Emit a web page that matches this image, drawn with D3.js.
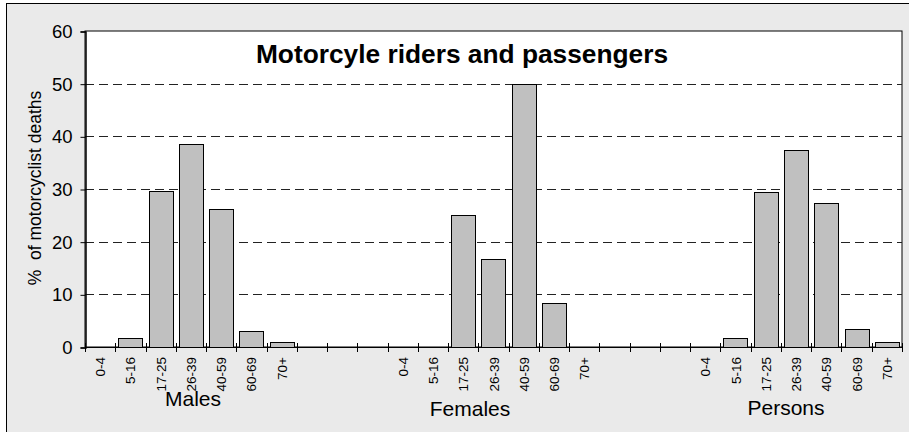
<!DOCTYPE html>
<meta charset="utf-8">
<head>
  <script src="https://d3js.org/d3.v7.min.js"></script>
  <style>
    body { margin: 0; background: #fff; }
    text { font-family: "Liberation Sans", Arial, sans-serif; fill: #000; }
  </style>
</head>
<body>
<div id="container"></div>
<script>
// chart values
const ageGroups = ["0-4", "5-16", "17-25", "26-39", "40-59", "60-69", "70+"];
const groupNames = ["Males", "Females", "Persons"];
const males = [0, 1.7, 29.7, 38.5, 26.2, 3.0, 0.9];
const females = [0, 0, 25.0, 16.7, 50.0, 8.3, 0];
const persons = [0, 1.7, 29.4, 37.5, 27.4, 3.4, 0.9];
const yTicks = [0, 10, 20, 30, 40, 50, 60];
const title = "Motorcyle riders and passengers";
const yLabel = "%  of motorcyclist deaths";

var width = 909, height = 432;
var plot = { left: 85, top: 31, right: 902, bottom: 347 };
var gapSlots = 3;

// build the slot list: 7 ages per group, 3 empty slots between groups
var series = [males, females, persons];
var slots = [];
groupNames.forEach(function (g, gi) {
  ageGroups.forEach(function (a, ai) {
    slots.push({ key: g + "|" + a, group: g, age: a, value: series[gi][ai] });
  });
  if (gi < groupNames.length - 1) {
    for (var k = 0; k < gapSlots; k++) slots.push({ key: g + "|gap" + k, age: "", value: null });
  }
});

var svg = d3.select("#container").append("svg")
  .attr("width", width).attr("height", height);

// outer chart area
svg.append("rect")
  .attr("x", 6.5).attr("y", 3.5)
  .attr("width", width + 10).attr("height", height + 10)
  .attr("fill", "#eaeaea").attr("stroke", "#000");

// plot area
svg.append("rect")
  .attr("x", plot.left).attr("y", plot.top)
  .attr("width", plot.right - plot.left).attr("height", plot.bottom - plot.top)
  .attr("fill", "#fff").attr("stroke", "#000");

var x = d3.scaleBand()
  .domain(slots.map(function (d) { return d.key; }))
  .range([plot.left, plot.right])
  .paddingInner(0.2).paddingOuter(0.1);

var step = x.step();
var y = d3.scaleLinear().domain([0, 60]).range([plot.bottom, plot.top]);

// dashed gridlines
svg.append("g").selectAll("line")
  .data(yTicks.filter(function (t) { return t > 0 && t < 60; }))
  .join("line")
  .attr("x1", plot.left).attr("x2", plot.right)
  .attr("y1", function (d) { return Math.round(y(d)) + 0.5; })
  .attr("y2", function (d) { return Math.round(y(d)) + 0.5; })
  .attr("stroke", "#222").attr("stroke-dasharray", "9,5");

// y axis
var yAxis = d3.axisLeft(y).tickValues(yTicks).tickSize(5).tickPadding(8);
var yg = svg.append("g")
  .attr("transform", "translate(" + (plot.left + 0.5) + ",0.5)")
  .call(yAxis);
yg.select(".domain").attr("stroke", "#000").attr("stroke-width", 1.5);
yg.selectAll("text").style("font-size", "18.5px").attr("fill", "#000");

// bars
svg.append("g").selectAll("rect")
  .data(slots.filter(function (d) { return d.value; }))
  .join("rect")
  .attr("x", function (d) { return Math.round(x(d.key)) + 0.5; })
  .attr("y", function (d) { return Math.round(y(d.value)) + 0.5; })
  .attr("width", Math.round(x.bandwidth()))
  .attr("height", function (d) { return Math.round(y(0)) - Math.round(y(d.value)); })
  .attr("fill", "#c0c0c0").attr("stroke", "#000");

// x axis line and crossing ticks at slot boundaries
var xg = svg.append("g");
xg.append("line")
  .attr("x1", plot.left).attr("x2", plot.right)
  .attr("y1", plot.bottom + 0.5).attr("y2", plot.bottom + 0.5)
  .attr("stroke", "#000");
xg.selectAll("line.tick")
  .data(d3.range(slots.length + 1))
  .join("line").attr("class", "tick")
  .attr("x1", function (i) { return Math.round(plot.left + i * step) + 0.5; })
  .attr("x2", function (i) { return Math.round(plot.left + i * step) + 0.5; })
  .attr("y1", plot.bottom - 4).attr("y2", plot.bottom + 5)
  .attr("stroke", "#000");

// age labels, rotated
svg.append("g").selectAll("text")
  .data(slots.filter(function (d) { return d.age; }))
  .join("text")
  .attr("transform", function (d) {
    return "translate(" + (x(d.key) + x.bandwidth() / 2 + 5) + "," + (plot.bottom + 10) + ") rotate(-90)";
  })
  .attr("text-anchor", "end")
  .style("font-size", "13.5px")
  .text(function (d) { return d.age; });

// group labels (placed like the hand-positioned text boxes of the original)
var groupLabelPos = [[193, 406], [470, 416], [786, 415]];
svg.append("g").selectAll("text")
  .data(groupNames)
  .join("text")
  .attr("x", function (d, i) { return groupLabelPos[i][0]; })
  .attr("y", function (d, i) { return groupLabelPos[i][1]; })
  .attr("text-anchor", "middle")
  .style("font-size", "21px")
  .text(function (d) { return d; });

// title
svg.append("text")
  .attr("x", 462).attr("y", 63)
  .attr("text-anchor", "middle")
  .style("font-size", "26.3px").style("font-weight", "bold")
  .text(title);

// y label
svg.append("text")
  .attr("transform", "translate(41,188) rotate(-90)")
  .attr("text-anchor", "middle")
  .style("font-size", "17.5px")
  .style("white-space", "pre")
  .text(yLabel);
</script>
</body>
